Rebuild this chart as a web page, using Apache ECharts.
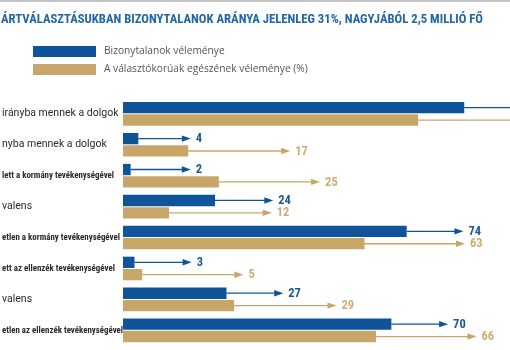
<!DOCTYPE html>
<html>
<head>
<meta charset="utf-8">
<script src="https://cdn.jsdelivr.net/npm/echarts@6/dist/echarts.min.js"></script>
<style>html,body{margin:0;padding:0;background:#fff;}#c{width:510px;height:350px;}</style>
</head>
<body>
<div id="c"></div>
<script>
var titleText = 'ÁRTVÁLASZTÁSUKBAN BIZONYTALANOK ARÁNYA JELENLEG 31%, NAGYJÁBÓL 2,5 MILLIÓ FŐ';
var seriesNames = ['Bizonytalanok véleménye', 'A választókorúak egészének véleménye (%)'];
var categories = [
  'irányba mennek a dolgok',
  'nyba mennek a dolgok',
  'lett a kormány tevékenységével',
  'valens',
  'etlen a kormány tevékenységével',
  'ett az ellenzék tevékenységével',
  'valens',
  'etlen az ellenzék tevékenységével'
];
var undecided = [89, 4, 2, 24, 74, 3, 27, 70];
var everyone = [77, 17, 25, 12, 63, 5, 29, 66];
// where each value callout arrow points to (in axis units)
var undecidedArrowTo = [104, 17.7, 17.7, 39.2, 88.8, 17.9, 41.8, 84.8];
var everyoneArrowTo = [104, 43.6, 51.4, 38.8, 89.2, 31.4, 55.7, 92.2];

var BLUE = '#0f5499';
var GOLD = '#c8a66a';
var GOLD_TXT = '#cfae74';
var COND = "'Roboto Condensed', sans-serif";
var OPEN = "'Open Sans', sans-serif";
var ROBOTO = "Roboto, sans-serif";

function arrowSeries(vals, tips, color, txtColor, dy) {
  return {
    type: 'custom',
    clip: false,
    silent: true,
    z: 3,
    encode: { x: [1, 2], y: 0 },
    data: categories.map(function (c, i) { return [i, vals[i], tips[i]]; }),
    renderItem: function (params, api) {
      var i = api.value(0);
      var s = api.coord([api.value(1), i]);
      var e = api.coord([api.value(2), i]);
      var y = s[1] + dy;
      var x0 = s[0], x1 = e[0];
      return {
        type: 'group',
        children: [
          { type: 'line', shape: { x1: x0, y1: y, x2: x1 - 6, y2: y },
            style: { stroke: color, lineWidth: 1.3 } },
          { type: 'polygon', shape: { points: [[x1 - 9, y - 3.2], [x1, y], [x1 - 9, y + 3.2]] },
            style: { fill: color } },
          { type: 'text', x: x1 + 5, y: y + 0.5,
            style: { text: String(api.value(1)), fill: txtColor, font: 'bold 12.5px ' + COND,
                     verticalAlign: 'middle', align: 'left' } }
        ]
      };
    }
  };
}

var chart = echarts.init(document.getElementById('c'));
chart.setOption({
  animation: false,
  graphic: [{ type: 'rect', shape: { x: 0, y: 0, width: 510, height: 2 }, style: { fill: '#c4c4c4' } }],
  title: {
    text: titleText, left: -4, top: 8,
    textStyle: { color: '#2166a6', fontSize: 12.7, fontWeight: 'bold', fontFamily: COND }
  },
  legend: {
    orient: 'vertical', left: 28, top: 41, itemWidth: 63, itemHeight: 11, itemGap: 7,
    icon: 'rect', data: seriesNames,
    textStyle: { color: '#555', fontSize: 10.2, fontFamily: OPEN, padding: [0, 0, 0, 3] }
  },
  grid: { left: 123, right: 3.6, top: 98.4, bottom: 4.2, outerBoundsMode: 'none', containLabel: false },
  xAxis: { type: 'value', min: 0, max: 100, show: false },
  yAxis: {
    type: 'category', data: categories, inverse: true,
    axisLine: { show: false }, axisTick: { show: false },
    axisLabel: {
      margin: 121, align: 'left',
      formatter: function (v) { return v.length > 25 ? '{n|' + v + '}' : '{w|' + v + '}'; },
      rich: {
        w: { color: '#2a2a2a', fontSize: 10.5, fontFamily: ROBOTO },
        n: { color: '#2a2a2a', fontSize: 8.9, fontWeight: 'bold', fontFamily: COND }
      }
    }
  },
  series: [
    { name: seriesNames[0], type: 'bar', data: undecided, barWidth: 11.3, barGap: '9%',
      itemStyle: { color: BLUE } },
    { name: seriesNames[1], type: 'bar', data: everyone, barWidth: 11.3, barGap: '9%',
      itemStyle: { color: GOLD } },
    arrowSeries(undecided, undecidedArrowTo, BLUE, '#1a5896', -6.2),
    arrowSeries(everyone, everyoneArrowTo, GOLD, GOLD_TXT, 6.2)
  ]
});
</script>
</body>
</html>
